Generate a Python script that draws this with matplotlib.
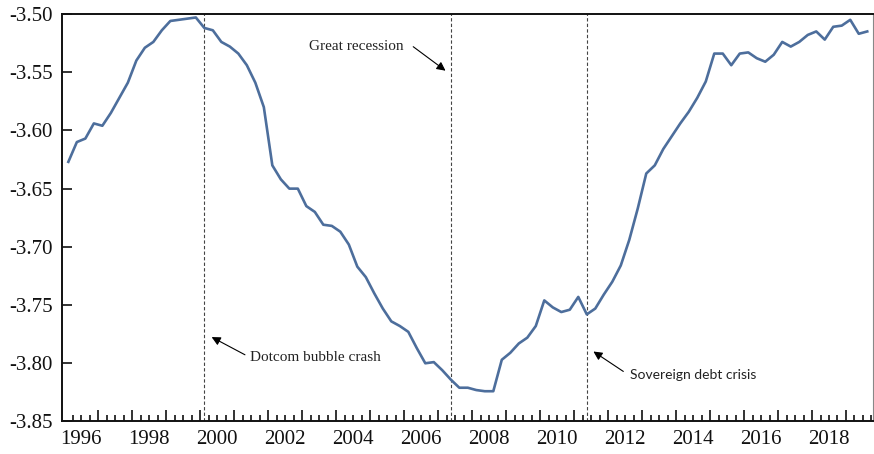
import numpy as np
import matplotlib
matplotlib.use("Agg")
import matplotlib.pyplot as plt
from matplotlib.ticker import FixedLocator, FormatStrFormatter, NullFormatter
from matplotlib.transforms import blended_transform_factory

plt.rcParams["axes.unicode_minus"] = False

# Quarterly series, 1996Q1 - 2019Q3
start_year = 1996
values = [
    -3.627, -3.610, -3.607, -3.594, -3.596, -3.585, -3.572, -3.559,
    -3.540, -3.529, -3.524, -3.514, -3.506, -3.505, -3.504, -3.503,
    -3.512, -3.514, -3.524, -3.528, -3.534, -3.544, -3.559, -3.580,
    -3.630, -3.642, -3.650, -3.650, -3.665, -3.670, -3.681, -3.682,
    -3.687, -3.698, -3.717, -3.726, -3.740, -3.753, -3.764, -3.768,
    -3.773, -3.787, -3.800, -3.799, -3.806, -3.814, -3.821, -3.821,
    -3.823, -3.824, -3.824, -3.797, -3.791, -3.783, -3.778, -3.768,
    -3.746, -3.752, -3.756, -3.754, -3.743, -3.758, -3.753, -3.741,
    -3.730, -3.716, -3.694, -3.667, -3.637, -3.630, -3.616, -3.605,
    -3.594, -3.584, -3.572, -3.558, -3.534, -3.534, -3.544, -3.534,
    -3.533, -3.538, -3.541, -3.535, -3.524, -3.528, -3.524, -3.518,
    -3.515, -3.522, -3.511, -3.510, -3.505, -3.517, -3.515,
]

# Crisis markers (year, quarter)
event_names = ["Dotcom bubble crash", "Great recession", "Sovereign debt crisis"]
event_years = [2000, 2007, 2011]
event_quarters = [1, 2, 2]

year_labels = list(range(1996, 2019, 2))
y_ticks = [-3.85, -3.80, -3.75, -3.70, -3.65, -3.60, -3.55, -3.50]


def quarter_pos(year, q):
    # centre of the quarter's slot on a fractional-year axis
    return year + (q - 0.5) / 4.0


n = len(values)
t = start_year + (np.arange(n) + 0.5) / 4.0

fig = plt.figure(figsize=(8.74, 4.54), dpi=100)
ax = fig.add_axes([0.0714, 0.0716, 0.9269, 0.8976])

ax.plot(t, values, color="#4d6e9c", lw=1.9, solid_joinstyle="round", zorder=3)

ax.set_xlim(1995.95, 2019.78)
ax.set_ylim(-3.85, -3.50)

# event lines
event_t = [quarter_pos(y, q) for y, q in zip(event_years, event_quarters)]
for et in event_t:
    ax.axvline(et, color="#444444", lw=0.8, ls=(0, (3, 2)), zorder=2)

# annotations: arrow head, arrow tail, text anchor, alignment and font
serif = ["Liberation Serif", "DejaVu Serif"]
sans = ["Lato", "DejaVu Sans"]
notes = [
    dict(xy=(2000.34, -3.7775), tail=(2001.32, -3.7927),
         txt=(2001.47, -3.7947), ha="left", family=serif, size=11),
    dict(xy=(2007.22, -3.5487), tail=(2006.27, -3.5281),
         txt=(2005.98, -3.5281), ha="right", family=serif, size=11),
    dict(xy=(2011.57, -3.7899), tail=(2012.45, -3.8070),
         txt=(2012.65, -3.8099), ha="left", family=sans, size=10),
]
for name, nt in zip(event_names, notes):
    ax.annotate("", xy=nt["xy"], xytext=nt["tail"],
                arrowprops=dict(arrowstyle="-|>", color="black", lw=0.8,
                                mutation_scale=13, shrinkA=0, shrinkB=0))
    ax.text(nt["txt"][0], nt["txt"][1], name, ha=nt["ha"], va="center",
            family=nt["family"], fontsize=nt["size"], color="#222222")

# spines
for side in ["left", "bottom", "top"]:
    ax.spines[side].set_linewidth(1.4)
    ax.spines[side].set_color("#111111")
ax.spines["right"].set_linewidth(0.8)
ax.spines["right"].set_color("#888888")

# y axis
ax.yaxis.set_major_locator(FixedLocator(y_ticks))
ax.yaxis.set_major_formatter(FormatStrFormatter("%.2f"))
ax.tick_params(axis="y", direction="in", length=7, width=1.2, pad=7,
               labelsize=15, colors="#111111")
for lab in ax.get_yticklabels():
    lab.set_family(serif)

# x axis: tall ticks at year boundaries, short at quarter boundaries
year_bounds = np.arange(start_year + 1, 2020)
quarter_bounds = [y + k / 4.0 for y in range(start_year, 2020) for k in (1, 2, 3)
                  if y + k / 4.0 < 2019.78]
ax.xaxis.set_major_locator(FixedLocator(year_bounds))
ax.xaxis.set_minor_locator(FixedLocator(quarter_bounds))
ax.xaxis.set_major_formatter(NullFormatter())
ax.tick_params(axis="x", which="major", direction="in", length=8, width=1.2,
               colors="#111111")
ax.tick_params(axis="x", which="minor", direction="in", length=4, width=1.2,
               colors="#111111")

# year labels centred on each labelled year
trans = blended_transform_factory(ax.transData, ax.transAxes)
for yr in year_labels:
    ax.text(yr + 0.5, -0.022, str(yr), transform=trans, ha="center", va="top",
            family=serif, fontsize=15, color="#111111")

fig.savefig("out.png", dpi=100, facecolor="white")
